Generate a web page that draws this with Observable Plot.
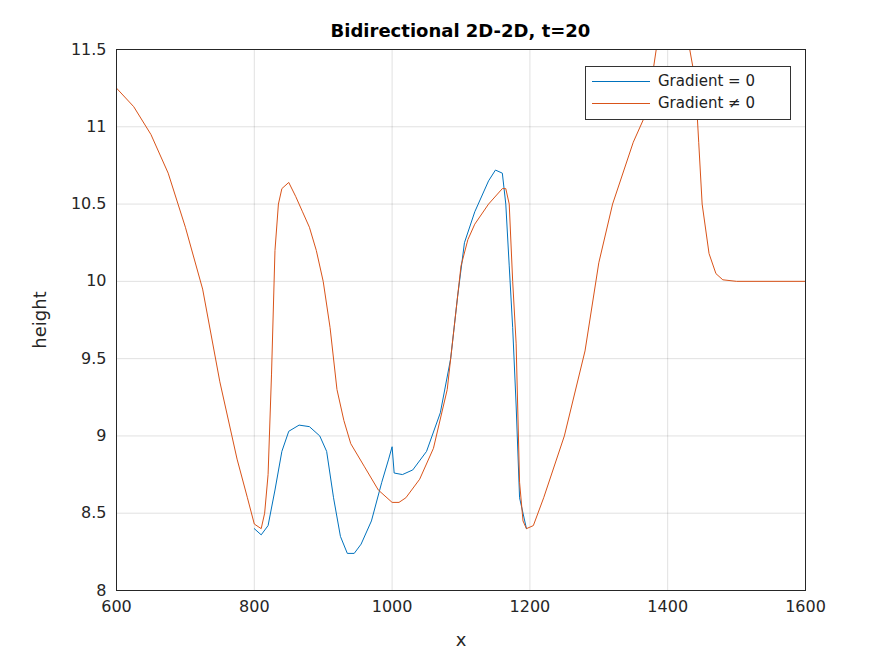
<!DOCTYPE html>
<html><head><meta charset="utf-8">
<script src="https://cdn.jsdelivr.net/npm/d3@7"></script>
<script src="https://cdn.jsdelivr.net/npm/@observablehq/plot@0.6"></script>
<style>
body{margin:0;background:#fff;font-family:"DejaVu Sans",sans-serif}
#wrap{position:relative;width:891px;height:664px}
#title{position:absolute;top:20px;left:116px;width:689px;text-align:center;font-weight:bold;font-size:18px;color:#000}
#legend{position:absolute;left:585px;top:66px;width:204px;height:52px;border:1px solid #333;background:#fff;font-size:15px;color:#222}
.row{position:absolute;left:6px;display:flex;align-items:center}
.sw{width:58px;height:0;border-top:1.2px solid;margin-right:8px}
</style></head><body>
<div id="wrap"><div id="title">Bidirectional 2D-2D, t=20</div>
<div id="legend"><div class="row" style="top:5px"><div class="sw" style="border-color:#0072BD"></div>Gradient = 0</div>
<div class="row" style="top:27px"><div class="sw" style="border-color:#D95319"></div>Gradient ≠ 0</div></div></div>
<script>
const orangeX=[600,625,650,675,700,725,750,775,790,800,810,815,820,825,830,835,840,850,860,870,880,890,900,910,920,930,940,960,980,1000,1010,1020,1040,1060,1080,1090,1100,1110,1120,1140,1160,1165,1170,1175,1180,1185,1190,1195,1205,1220,1250,1280,1300,1320,1350,1370,1385,1430,1440,1445,1450,1460,1470,1480,1500,1600];
const orangeY=[11.25,11.13,10.95,10.7,10.35,9.95,9.35,8.85,8.6,8.43,8.4,8.5,8.75,9.4,10.2,10.5,10.6,10.64,10.55,10.45,10.35,10.2,10.0,9.7,9.3,9.1,8.95,8.8,8.65,8.57,8.57,8.6,8.72,8.92,9.3,9.7,10.1,10.27,10.37,10.5,10.6,10.6,10.5,10.0,9.6,8.7,8.45,8.4,8.42,8.6,9.0,9.55,10.12,10.5,10.9,11.1,11.55,11.55,11.3,10.9,10.5,10.18,10.05,10.01,10.0,10.0];
const blueX=[800,810,820,830,840,850,865,880,895,905,915,925,935,945,955,970,985,995,1000,1003,1015,1030,1050,1070,1085,1095,1105,1120,1140,1150,1160,1165,1170,1175,1180,1185,1195];
const blueY=[8.40,8.36,8.42,8.65,8.9,9.03,9.07,9.06,9.0,8.9,8.6,8.35,8.24,8.24,8.3,8.45,8.7,8.85,8.93,8.76,8.75,8.78,8.9,9.15,9.5,9.9,10.25,10.45,10.65,10.72,10.7,10.5,10.1,9.7,9.2,8.6,8.4];
const orange=orangeX.map((x,i)=>({x,y:orangeY[i]}));
const blue=blueX.map((x,i)=>({x,y:blueY[i]}));
const xt=[600,800,1000,1200,1400,1600], yt=[8,8.5,9,9.5,10,10.5,11,11.5];
const p=Plot.plot({width:891,height:664,marginLeft:116,marginRight:86,marginTop:49,marginBottom:74,
style:{fontSize:"16px",fontFamily:"DejaVu Sans",color:"#262626",background:"transparent"},
x:{domain:[600,1600],ticks:xt,tickSize:0,tickPadding:10,tickFormat:d=>String(d),label:null},
y:{domain:[8,11.5],ticks:yt,tickSize:0,tickPadding:10,tickFormat:d=>String(d),label:null},
marks:[
Plot.gridX(xt,{stroke:"#000",strokeOpacity:0.12}),
Plot.gridY(yt,{stroke:"#000",strokeOpacity:0.12}),
Plot.line(blue,{x:"x",y:"y",stroke:"#0072BD",strokeWidth:1,clip:true}),
Plot.line(orange,{x:"x",y:"y",stroke:"#D95319",strokeWidth:1,clip:true}),
Plot.frame({stroke:"#262626"}),
Plot.text(["x"],{x:()=>1100,y:()=>8,text:d=>d,fontSize:18,dy:50}),
Plot.text(["height"],{x:()=>600,y:()=>9.75,text:d=>d,fontSize:18,rotate:-90,dx:-76})
]});
p.style.position="absolute";p.style.left="0";p.style.top="0";
document.getElementById("wrap").prepend(p);
</script></body></html>
